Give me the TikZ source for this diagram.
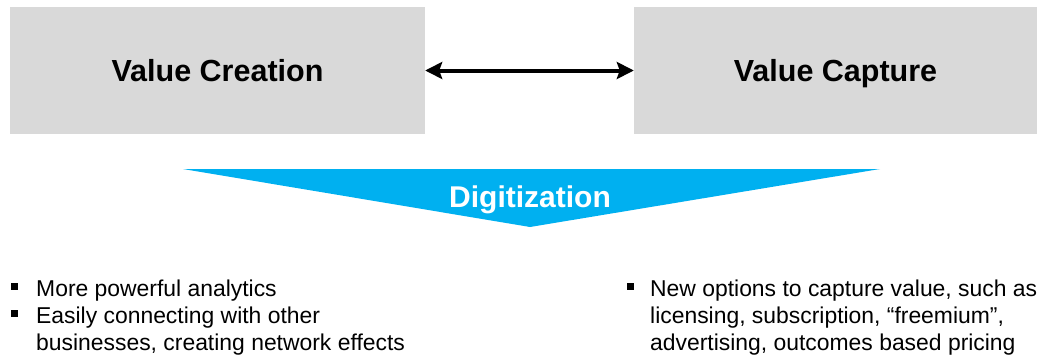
\documentclass[tikz,border=0pt]{standalone}
\usepackage{fontspec}
\setmainfont{Liberation Sans}
\usetikzlibrary{arrows.meta}
\definecolor{boxgray}{HTML}{D9D9D9}
\definecolor{digiblue}{HTML}{00B0F0}
\newcommand{\bsq}{\raisebox{6pt}{\rule{7pt}{7pt}}}
\begin{document}
\begin{tikzpicture}[x=1pt,y=-1pt,
  valuebox/.style={fill=boxgray, draw=none, inner sep=0pt, text height=25pt, text depth=3pt, font=\fontsize{30.5}{35}\selectfont\bfseries},
  bullettext/.style={anchor=north west, inner sep=0pt, font=\fontsize{22.9}{27}\selectfont},
  link/.style={line width=4pt, {Stealth[length=17pt,width=17pt,inset=3pt]}-{Stealth[length=17pt,width=17pt,inset=3pt]}}
]
\useasboundingbox (0,0) rectangle (1037,356);
\node[valuebox, minimum width=415pt, minimum height=127pt] (vcr) at (217.5,70.5) {Value Creation};
\node[valuebox, minimum width=403pt, minimum height=127pt] (vca) at (835.5,70.5) {Value Capture};
\draw[link] (vcr.east) -- (vca.west);
\coordinate (tl) at (183,169);
\coordinate (tr) at (880,169);
\coordinate (tip) at (530,227);
\fill[digiblue] (tl) -- (tr) -- (tip) -- cycle;
\node[text=white, font=\fontsize{30}{34}\selectfont\bfseries, inner sep=0pt] (digi) at (530,200) {Digitization};
\node[bullettext] (left) at (11,277) {\begin{tabular}{@{}p{25pt}@{}l@{}}
\bsq & More powerful analytics\\
\bsq & Easily connecting with other\\
 & businesses, creating network effects
\end{tabular}};
\node[bullettext] (right) at (627,277) {\begin{tabular}{@{}p{23pt}@{}l@{}}
\bsq & New options to capture value, such as\\
 & licensing, subscription, “freemium”,\\
 & advertising, outcomes based pricing
\end{tabular}};
\end{tikzpicture}
\end{document}
